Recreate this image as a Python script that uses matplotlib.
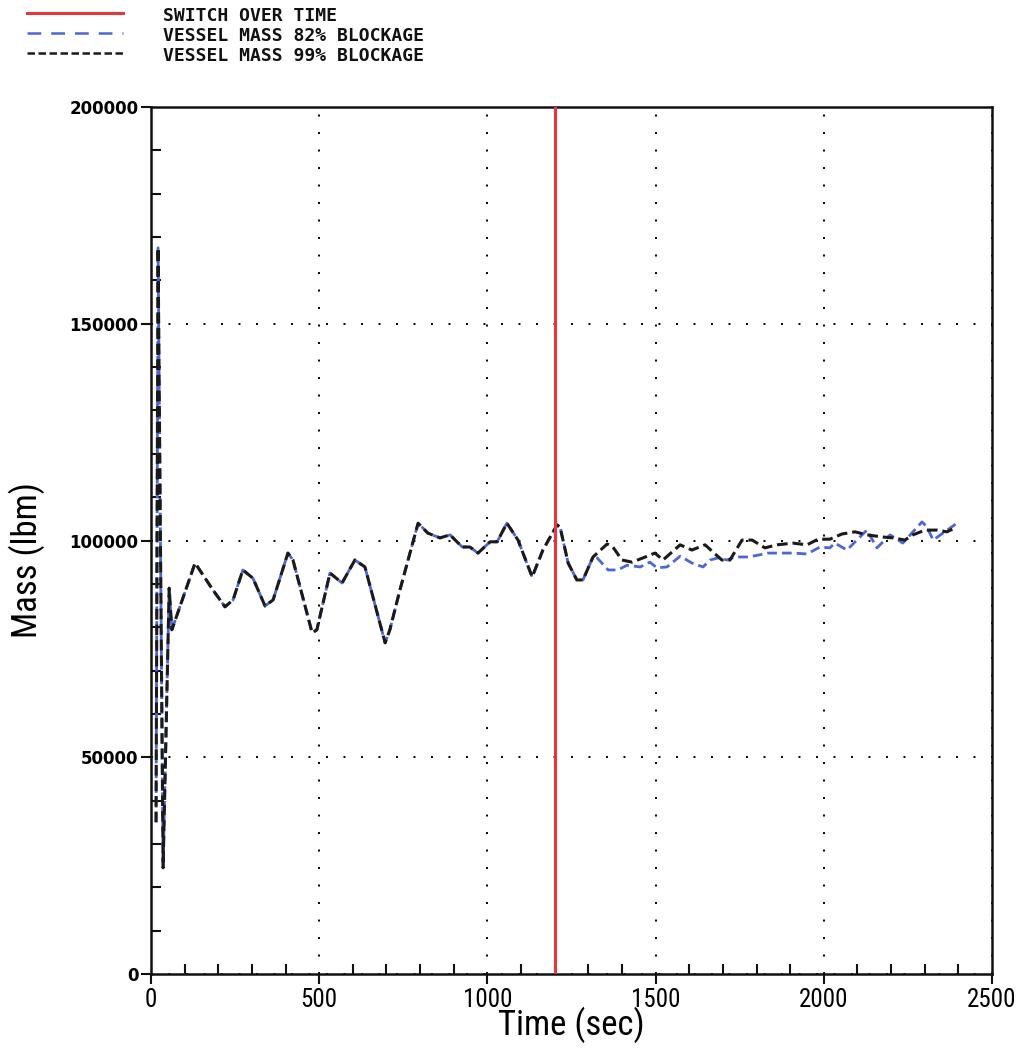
import matplotlib
matplotlib.use("Agg")
import matplotlib.pyplot as plt
from matplotlib.lines import Line2D
from matplotlib.ticker import MultipleLocator, FixedLocator
from matplotlib import font_manager

# ---- data -------------------------------------------------------------
# common transient (both blockage cases coincide up to ~1310 s)
t_common = [15, 21, 36, 54, 62, 131, 184, 220, 244, 273, 303, 339, 363, 407,
            422, 479, 493, 532, 568, 606, 636, 696, 710, 740, 794, 823, 859,
            889, 925, 948, 972, 1008, 1029, 1058, 1091, 1133, 1165, 1207, 1216,
            1240, 1266, 1284, 1314]
m_common = [35000, 167500, 24500, 89000, 79400, 94800, 88600, 84700, 86300,
            93200, 91300, 84900, 86300, 97100, 95500, 78700, 79400, 92500,
            90200, 95500, 93900, 76400, 79400, 88600, 104000, 101700, 100600,
            101300, 98500, 98500, 97100, 99700, 99700, 104000, 100100, 91600,
            97800, 103600, 103100, 94800, 90900, 90900, 96200]

# 82% blockage, after divergence
t_82 = [1326, 1359, 1388, 1415, 1454, 1483, 1504, 1534, 1573, 1608, 1641,
        1662, 1686, 1712, 1736, 1775, 1810, 1834, 1870, 1908, 1950, 1989,
        2018, 2033, 2069, 2093, 2128, 2158, 2197, 2235, 2265, 2292, 2307,
        2325, 2354, 2396]
m_82 = [96000, 93200, 93200, 94300, 93900, 95000, 93700, 93900, 96400, 94800,
        93900, 95500, 96000, 95500, 96200, 96200, 96700, 97100, 97100, 97100,
        96900, 98500, 98300, 99400, 97800, 99700, 102400, 98300, 101300,
        99400, 102000, 104300, 103100, 100100, 101700, 104000]

# 99% blockage, after divergence
t_99 = [1356, 1373, 1400, 1430, 1463, 1498, 1522, 1573, 1608, 1647, 1697,
        1721, 1757, 1787, 1825, 1861, 1908, 1950, 1983, 2018, 2054, 2093,
        2128, 2176, 2206, 2241, 2265, 2301, 2337, 2366, 2390]
m_99 = [99200, 98500, 95500, 95000, 96000, 97100, 95500, 99000, 97800, 99000,
        95500, 95500, 100100, 100100, 98300, 99000, 99400, 99000, 100300,
        100300, 101500, 102000, 101300, 100800, 100600, 100100, 101300,
        102400, 102400, 102000, 102900]

switch_time = 1200

legend_labels = ["SWITCH OVER TIME",
                 "VESSEL MASS 82% BLOCKAGE",
                 "VESSEL MASS 99% BLOCKAGE"]

x_ticks = [0, 500, 1000, 1500, 2000, 2500]
y_ticks = [0, 50000, 100000, 150000, 200000]

# ---- styles -------------------------------------------------------------
RED = "#e8353b"
BLUE = "#4a66d8"
BLACK = "#1a1a1a"

# pick a narrow face for the axis titles if one is installed
names = {f.name for f in font_manager.fontManager.ttflist}
narrow = [n for n in ("Liberation Sans Narrow", "Roboto Condensed",
                      "Open Sans Condensed", "DejaVu Sans") if n in names]
narrow_stretch = "condensed"

fig = plt.figure(figsize=(10.2, 10.48), dpi=100)
W, H = 1020, 1048
ax = fig.add_axes([151 / W, 1 - 974 / H, 841 / W, 867 / H])

t82 = t_common + t_82
m82 = m_common + m_82
t99 = t_common + t_99
m99 = m_common + m_99

ax.plot(t82, m82, color=BLUE, lw=2.0, dashes=(3.5, 1.8), zorder=3)
ax.plot(t99, m99, color=BLACK, lw=2.2, dashes=(3.5, 1.6), zorder=4)
ax.axvline(switch_time, color=RED, lw=2.2, zorder=5)

ax.set_xlim(0, 2500)
ax.set_ylim(0, 200000)

# grid: sparse dotted lines at major ticks
ax.xaxis.set_major_locator(FixedLocator(x_ticks))
ax.yaxis.set_major_locator(FixedLocator(y_ticks))
ax.xaxis.set_minor_locator(MultipleLocator(100))
ax.yaxis.set_minor_locator(MultipleLocator(10000))
ax.grid(True, which="major", color="black", lw=1.4, linestyle=(0, (1, 8)))
ax.set_axisbelow(True)

for s in ax.spines.values():
    s.set_linewidth(1.8)
    s.set_color("#111111")

ax.tick_params(axis="both", which="major", direction="out", length=7,
               width=1.5, color="#111111")
ax.tick_params(axis="both", which="minor", direction="in", length=7,
               width=1.5, color="#111111")
ax.tick_params(axis="y", which="major", pad=2)
ax.tick_params(axis="x", which="major", pad=3)

ax.set_xticklabels([str(v) for v in x_ticks], fontfamily=narrow,
                   fontstretch=narrow_stretch, fontsize=18)
ax.set_yticklabels([str(v) for v in y_ticks],
                   fontfamily="DejaVu Sans", fontweight="bold", fontsize=12)

ax.set_xlabel("Time (sec)", fontfamily=narrow, fontstretch=narrow_stretch,
              fontsize=25)
ax.set_ylabel("Mass (lbm)", fontfamily=narrow, fontstretch=narrow_stretch,
              fontsize=25)
ax.xaxis.set_label_coords(0.5, -0.038)
ax.yaxis.set_label_coords(-0.126, 0.477)

# legend block drawn above the axes
rows_y = [16, 36, 56]
styles = [dict(color=RED, lw=2.2, linestyle="-"),
          dict(color=BLUE, lw=1.8, dashes=(5.5, 4.0)),
          dict(color=BLACK, lw=1.8, dashes=(3.0, 1.4))]
for y, lab, st in zip(rows_y, legend_labels, styles):
    fy = 1 - y / H
    fl = 1 - (y - 3) / H
    fig.add_artist(Line2D([27 / W, 123 / W], [fl, fl],
                          transform=fig.transFigure, **st))
    fig.text(163 / W, fy, lab, fontfamily="DejaVu Sans Mono",
             fontweight="bold", fontsize=13, va="center", ha="left",
             color="#111111")

fig.savefig("out.png", dpi=100)
